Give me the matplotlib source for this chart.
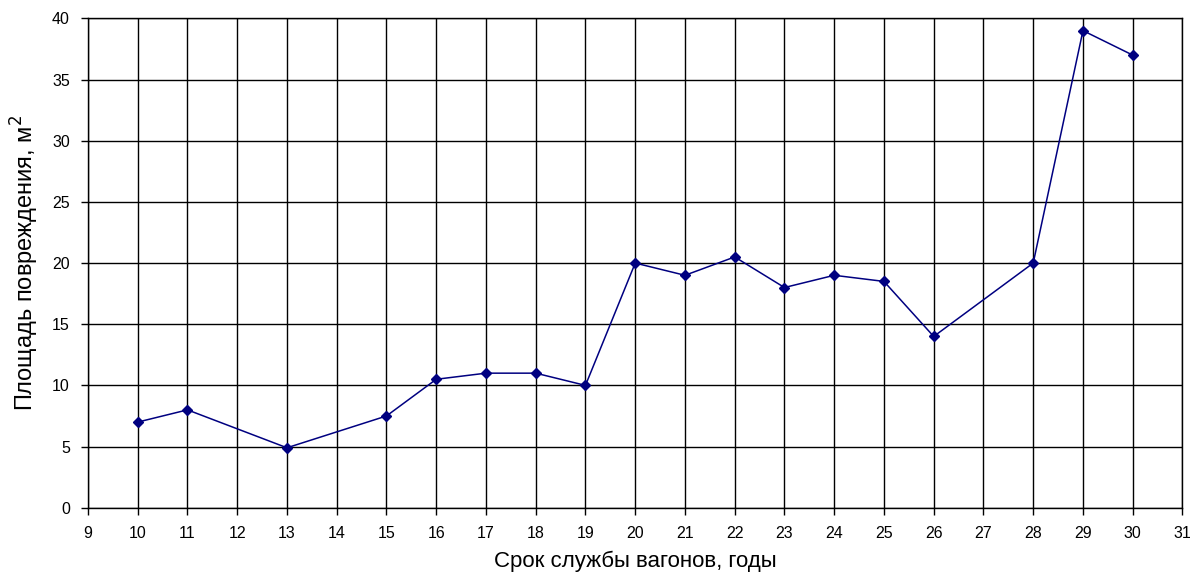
import matplotlib
matplotlib.use("Agg")
import matplotlib.pyplot as plt

years = [10, 11, 13, 15, 16, 17, 18, 19, 20, 21, 22, 23, 24, 25, 26, 28, 29, 30]
area = [7, 8, 4.9, 7.5, 10.5, 11, 11, 10, 20, 19, 20.5, 18, 19, 18.5, 14, 20, 39, 37]
x_ticks = list(range(9, 32))
y_ticks = list(range(0, 41, 5))

plt.rcParams['font.family'] = ['Liberation Sans', 'DejaVu Sans']

fig = plt.figure(figsize=(11.92, 5.75), dpi=100)
ax = fig.add_axes([0.0738, 0.117, 0.992 - 0.0738, 0.968 - 0.117])

ax.plot(years, area, color='#000080', linewidth=1.1, marker='D', markersize=5,
        markerfacecolor='#000080', markeredgecolor='#000080', zorder=3)

ax.set_xlim(9, 31)
ax.set_ylim(0, 40)
ax.set_xticks(x_ticks)
ax.set_yticks(y_ticks)
ax.grid(True, color='black', linewidth=1.0)
for s in ax.spines.values():
    s.set_color('black')
    s.set_linewidth(1.0)
ax.tick_params(axis='both', direction='out', length=5, width=1, color='black',
               labelsize=11.5, pad=8)
ax.set_xlabel('Срок службы вагонов, годы', fontsize=16, labelpad=7)
ax.set_ylabel('Площадь повреждения, м$^2$', fontsize=17, labelpad=8)

fig.savefig('out.png', dpi=100)
